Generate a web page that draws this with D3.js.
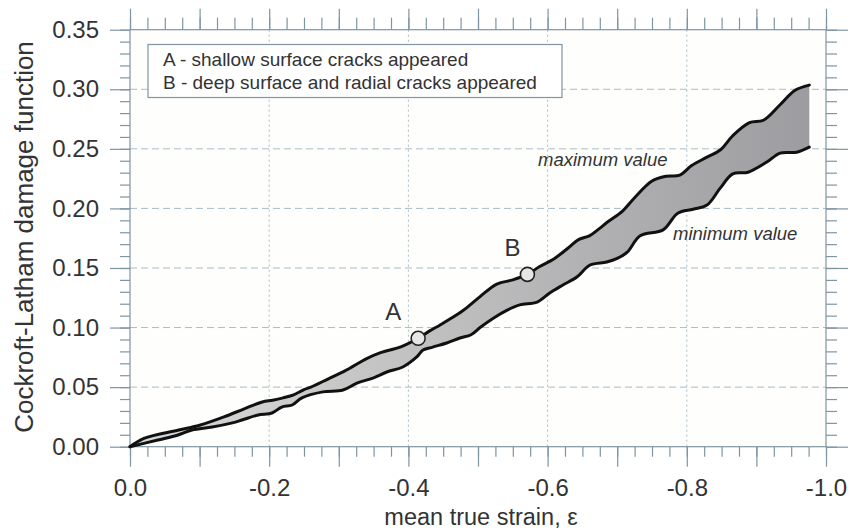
<!DOCTYPE html>
<html>
<head>
<meta charset="utf-8">
<script src="https://cdn.jsdelivr.net/npm/d3@7"></script>
<style>
  html, body { margin: 0; padding: 0; background: #ffffff; }
  svg { display: block; }
  text { font-family: "Liberation Sans", Arial, sans-serif; }
</style>
</head>
<body>
<svg id="chart" width="851" height="531"></svg>
<script>
// ---------- data ----------
const xTickLabels = [0, -0.2, -0.4, -0.6, -0.8, -1.0];
const yTickLabels = [0, 0.05, 0.10, 0.15, 0.20, 0.25, 0.30, 0.35];
const xTitle = "mean true strain, \u03b5";
const yTitle = "Cockroft-Latham damage function";
const legendLines = ["A - shallow surface cracks appeared", "B - deep surface and radial cracks appeared"];

// maximum value curve: [strain, damage]
const maxStrain = [0, -0.02, -0.07, -0.10, -0.135, -0.165, -0.19, -0.205, -0.22, -0.235, -0.25, -0.26, -0.285, -0.31, -0.34, -0.36, -0.39, -0.414, -0.43, -0.445, -0.465, -0.48, -0.503, -0.527, -0.55, -0.571, -0.588, -0.61, -0.63, -0.645, -0.66, -0.672, -0.687, -0.708, -0.725, -0.75, -0.77, -0.79, -0.807, -0.829, -0.848, -0.866, -0.89, -0.91, -0.934, -0.955, -0.976];
const maxDamage = [0, 0.007, 0.014, 0.018, 0.025, 0.032, 0.0375, 0.039, 0.041, 0.0435, 0.048, 0.050, 0.057, 0.064, 0.074, 0.079, 0.084, 0.091, 0.097, 0.102, 0.109, 0.115, 0.126, 0.1365, 0.140, 0.1446, 0.151, 0.158, 0.167, 0.174, 0.177, 0.182, 0.189, 0.198, 0.209, 0.223, 0.227, 0.228, 0.236, 0.243, 0.249, 0.261, 0.272, 0.274, 0.287, 0.299, 0.3035];

// minimum value curve
const minStrain = [0, -0.04, -0.069, -0.089, -0.118, -0.147, -0.161, -0.184, -0.204, -0.218, -0.233, -0.247, -0.277, -0.306, -0.326, -0.349, -0.369, -0.392, -0.412, -0.421, -0.435, -0.455, -0.474, -0.49, -0.503, -0.522, -0.542, -0.56, -0.585, -0.603, -0.622, -0.642, -0.661, -0.685, -0.70, -0.714, -0.733, -0.766, -0.787, -0.809, -0.829, -0.848, -0.866, -0.888, -0.915, -0.934, -0.958, -0.976];
const minDamage = [0, 0.0056, 0.0098, 0.014, 0.0165, 0.020, 0.0224, 0.0266, 0.0283, 0.0333, 0.035, 0.041, 0.046, 0.0476, 0.0534, 0.0576, 0.0627, 0.0669, 0.0753, 0.0811, 0.0836, 0.087, 0.0912, 0.094, 0.100, 0.1078, 0.1146, 0.119, 0.1214, 0.129, 0.1357, 0.1424, 0.1525, 0.155, 0.158, 0.163, 0.177, 0.182, 0.196, 0.1993, 0.2028, 0.217, 0.229, 0.2304, 0.2389, 0.2464, 0.2472, 0.2514];

// marked points
const markNames = ["A", "B"];
const markStrain = [-0.414, -0.571];
const markDamage = [0.091, 0.1446];

// ---------- layout ----------
const svg = d3.select("#chart");
const axisColor = "#7f95a2";
const gridColor = "#a9bcc6";
const textColor = "#333333";

const x = d3.scaleLinear().domain([0, -1]).range([130, 826]);
const y = d3.scaleLinear().domain([0, 0.35]).range([446.7, 29.7]);

const x0 = x(0), x1 = x(-1), yB = y(0), yT = y(0.35);

// gradient for band
const defs = svg.append("defs");
const grad = defs.append("linearGradient")
  .attr("id", "bandGrad").attr("gradientUnits", "userSpaceOnUse")
  .attr("x1", x0).attr("x2", x1).attr("y1", 0).attr("y2", 0);
grad.append("stop").attr("offset", "0%").attr("stop-color", "#d9d9d9");
grad.append("stop").attr("offset", "50%").attr("stop-color", "#bcbcbd");
grad.append("stop").attr("offset", "100%").attr("stop-color", "#9b9b9f");

// plot background
svg.append("rect").attr("x", x0).attr("y", yT).attr("width", x1 - x0).attr("height", yB - yT)
  .attr("fill", "#fefefd");

// grid
const gridY = yTickLabels.filter(v => v > 0 && v < 0.35);
svg.append("g").selectAll("line").data(gridY).join("line")
  .attr("x1", x0).attr("x2", x1).attr("y1", d => y(d)).attr("y2", d => y(d))
  .attr("stroke", gridColor).attr("stroke-width", 1).attr("stroke-dasharray", "7,4");
const gridX = xTickLabels.filter(v => v < 0 && v > -1);
svg.append("g").selectAll("line").data(gridX).join("line")
  .attr("x1", d => x(d)).attr("x2", d => x(d)).attr("y1", yT).attr("y2", yB)
  .attr("stroke", gridColor).attr("stroke-width", 1).attr("stroke-dasharray", "2,3");

// axes ticks
function styleAxis(g) {
  g.select(".domain").remove();
  g.selectAll(".tick line").attr("stroke", axisColor).attr("stroke-width", 1.2);
  g.selectAll(".tick text").attr("fill", textColor).style("font-size", "24px")
    .style("font-family", '"Liberation Sans", Arial, sans-serif');
}
const xMinor = d3.range(0, -1.0001, -0.025);
const xMajor = d3.range(0, -1.0001, -0.1);
const yMinor = d3.range(0, 0.3501, 0.01);
const yMajor = d3.range(0, 0.3501, 0.05);

// bottom
svg.append("g").attr("transform", `translate(0,${yB})`)
  .call(d3.axisBottom(x).tickValues(xMinor).tickSize(10).tickFormat("")).call(styleAxis);
svg.append("g").attr("transform", `translate(0,${yB})`)
  .call(d3.axisBottom(x).tickValues(xMajor).tickSize(20).tickFormat("")).call(styleAxis);
svg.append("g").attr("transform", `translate(0,${yB})`)
  .call(d3.axisBottom(x).tickValues(xTickLabels).tickSize(0).tickPadding(32).tickFormat(d => d.toFixed(1)))
  .call(styleAxis);
// top
svg.append("g").attr("transform", `translate(0,${yT})`)
  .call(d3.axisTop(x).tickValues(xMinor).tickSize(12).tickFormat("")).call(styleAxis);
svg.append("g").attr("transform", `translate(0,${yT})`)
  .call(d3.axisTop(x).tickValues(xMajor).tickSize(21).tickFormat("")).call(styleAxis);
// left
svg.append("g").attr("transform", `translate(${x0},0)`)
  .call(d3.axisLeft(y).tickValues(yMinor).tickSize(10).tickFormat("")).call(styleAxis);
svg.append("g").attr("transform", `translate(${x0},0)`)
  .call(d3.axisLeft(y).tickValues(yMajor).tickSize(20).tickFormat("")).call(styleAxis);
svg.append("g").attr("transform", `translate(${x0},0)`)
  .call(d3.axisLeft(y).tickValues(yTickLabels).tickSize(0).tickPadding(31).tickFormat(d => d.toFixed(2)))
  .call(styleAxis);
// right
svg.append("g").attr("transform", `translate(${x1},0)`)
  .call(d3.axisRight(y).tickValues(yMinor).tickSize(11).tickFormat("")).call(styleAxis);
svg.append("g").attr("transform", `translate(${x1},0)`)
  .call(d3.axisRight(y).tickValues(yMajor).tickSize(22).tickFormat("")).call(styleAxis);

// frame
svg.append("rect").attr("x", x0).attr("y", yT).attr("width", x1 - x0).attr("height", yB - yT)
  .attr("fill", "none").attr("stroke", axisColor).attr("stroke-width", 1.2);

// band
const upper = maxStrain.map((s, i) => [s, maxDamage[i]]);
const lower = minStrain.map((s, i) => [s, minDamage[i]]);
const line = d3.line().x(d => x(d[0])).y(d => y(d[1])).curve(d3.curveCatmullRom.alpha(0.5));
const upPath = line(upper);
const loRevPath = line(lower.slice().reverse());
svg.append("path").attr("d", upPath + "L" + loRevPath.slice(1) + "Z")
  .attr("fill", "url(#bandGrad)").attr("stroke", "none");
svg.append("path").attr("d", upPath).attr("fill", "none").attr("stroke", "#111")
  .attr("stroke-width", 3).attr("stroke-linejoin", "round").attr("stroke-linecap", "round");
svg.append("path").attr("d", line(lower)).attr("fill", "none").attr("stroke", "#111")
  .attr("stroke-width", 3).attr("stroke-linejoin", "round").attr("stroke-linecap", "round");

// marked points
svg.append("g").selectAll("circle").data(markNames).join("circle")
  .attr("cx", (d, i) => x(markStrain[i])).attr("cy", (d, i) => y(markDamage[i])).attr("r", 7)
  .attr("fill", "#e6e6e4").attr("stroke", "#222").attr("stroke-width", 1.6);
svg.append("g").selectAll("text").data(markNames).join("text")
  .attr("x", (d, i) => x(markStrain[i]) - 25 + i * 10)
  .attr("y", (d, i) => y(markDamage[i]) - 18)
  .attr("text-anchor", "middle").attr("fill", textColor).style("font-size", "24px")
  .text(d => d);

// curve labels
svg.append("text").attr("x", 538).attr("y", 166).attr("fill", textColor)
  .style("font-size", "18.5px").style("font-style", "italic").text("maximum value");
svg.append("text").attr("x", 673).attr("y", 240).attr("fill", textColor)
  .style("font-size", "18.5px").style("font-style", "italic").text("minimum value");

// legend
svg.append("rect").attr("x", 148).attr("y", 44.5).attr("width", 414).attr("height", 53)
  .attr("fill", "#ffffff").attr("stroke", axisColor).attr("stroke-width", 1.2);
svg.append("g").selectAll("text").data(legendLines).join("text")
  .attr("x", 163).attr("y", (d, i) => 66 + i * 22.5).attr("fill", textColor)
  .style("font-size", "19px").text(d => d);

// axis titles
svg.append("text").attr("x", 481).attr("y", 525).attr("text-anchor", "middle")
  .attr("fill", textColor).style("font-size", "23.5px").text(xTitle);
svg.append("text").attr("transform", "translate(33,237) rotate(-90)").attr("text-anchor", "middle")
  .attr("fill", textColor).style("font-size", "26px").text(yTitle);
</script>
</body>
</html>
